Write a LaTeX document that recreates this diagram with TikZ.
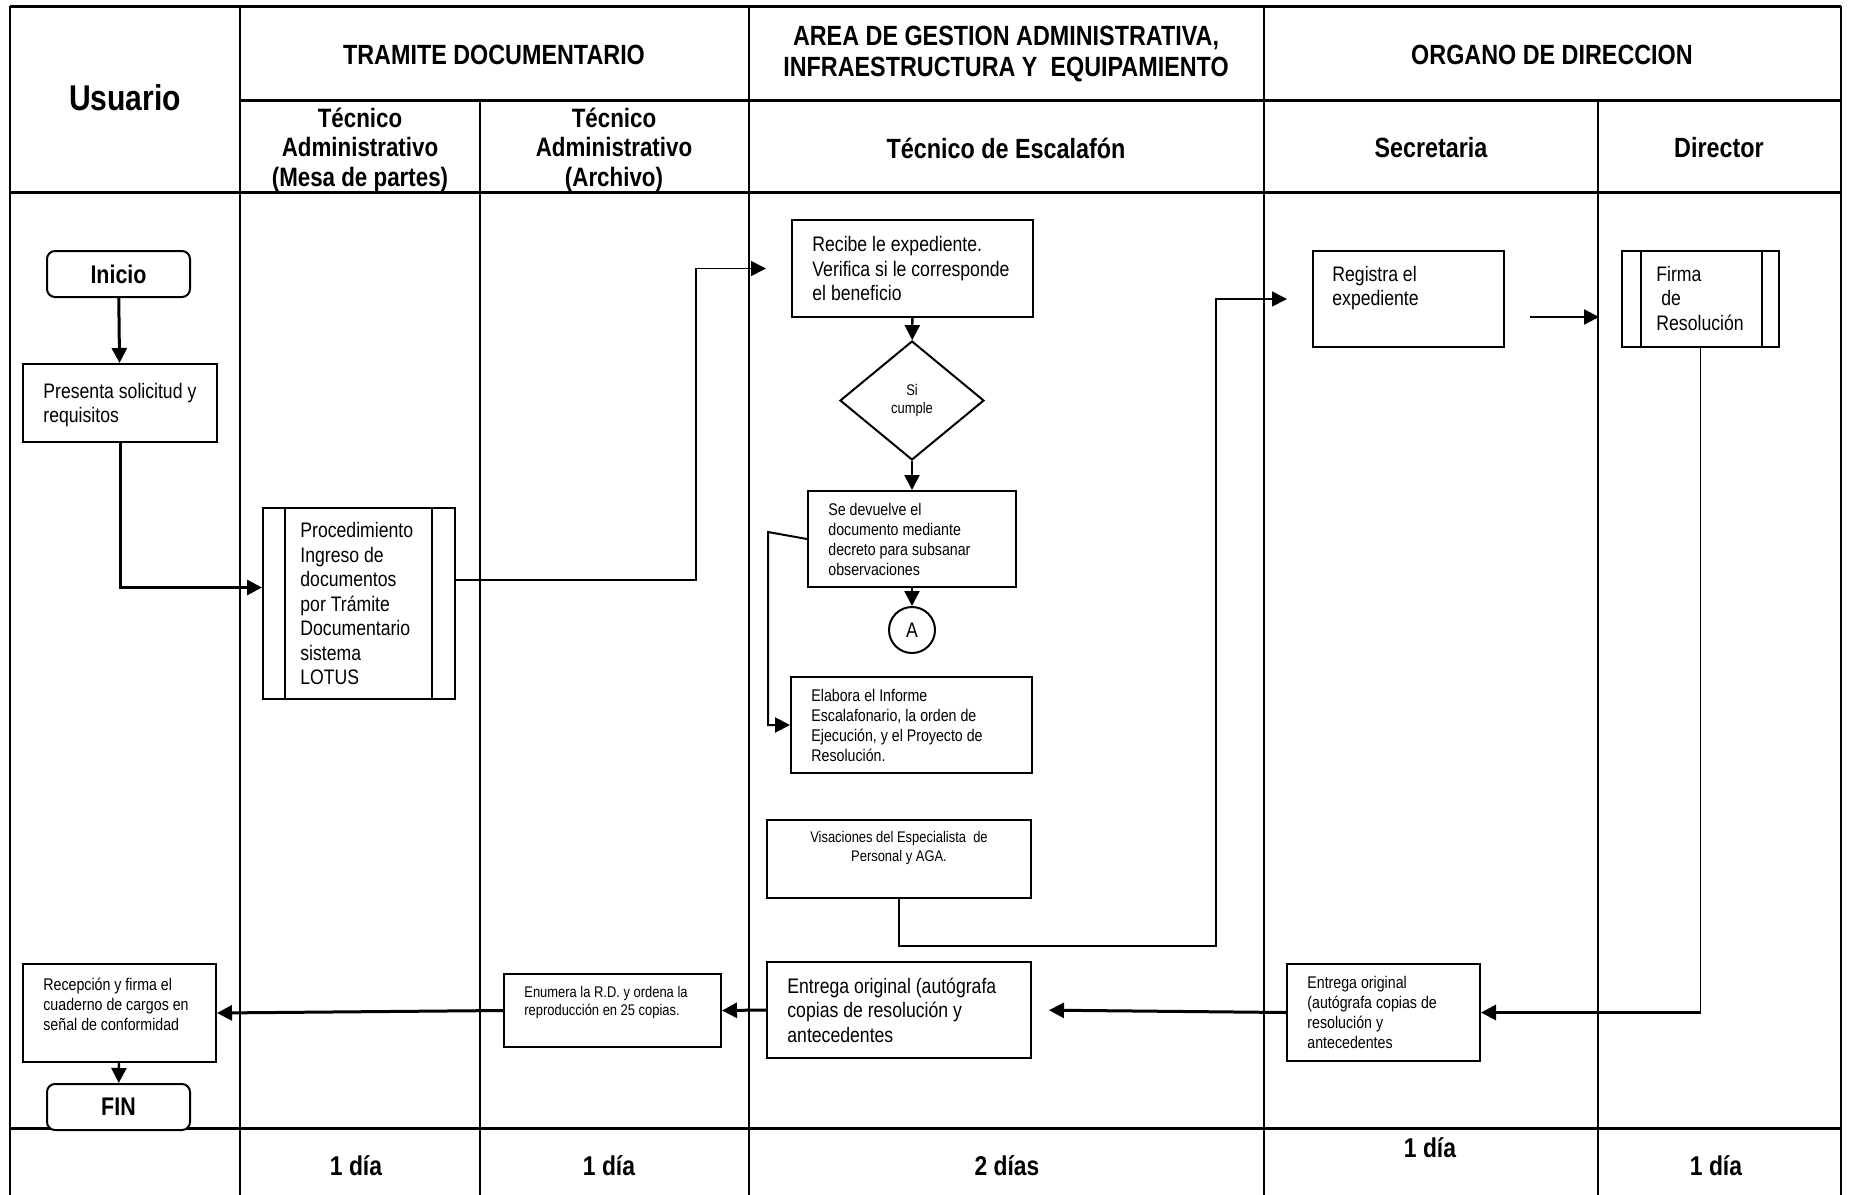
\documentclass[tikz,border=0pt]{standalone}
\usepackage{fontspec}
\setmainfont{Liberation Sans}[FakeStretch=0.84]
\usetikzlibrary{arrows.meta,shapes.geometric}

\newcommand\boxfont{\fontsize{10.5}{12.25}\selectfont}
\newcommand\smallboxfont{\fontsize{8.45}{10}\selectfont}
\newcommand\tinyboxfont{\fontsize{7.7}{9.2}\selectfont}
\newcommand\headfont{\fontsize{13.9}{15.3}\selectfont\bfseries}
\newcommand\subheadfont{\fontsize{13.3}{14.6}\selectfont\bfseries}
\newcommand\dayfont{\fontsize{13.6}{15}\selectfont\bfseries}

\tikzset{
  lane/.style={line width=1.5pt},
  vlane/.style={line width=1.2pt},
  stepbox/.style={draw, rectangle, line width=1pt, inner sep=0pt, fill=white},
  termbox/.style={stepbox, rounded corners=4pt, font=\fontsize{12.75}{14}\selectfont\bfseries},
  txt/.style={anchor=west, align=left, inner sep=0pt, font=\boxfont},
  head/.style={align=center, inner sep=0pt, font=\headfont},
  flow/.style={-{Triangle[length=7.5pt,width=7.5pt]}, line width=1.5pt},
  link/.style={-{Triangle[length=7.5pt,width=7.5pt]}, line width=0.8pt},
}

\begin{document}
\begin{tikzpicture}[x=0.5pt, y=-0.5pt]
\useasboundingbox (0,0) rectangle (1849,1195);

% lanes
\foreach \yy/\xa in {6/10,100/240,192/10,1128/10}
  \draw[lane] (\xa,\yy) -- (1841,\yy);
\foreach \xx/\ya in {10/6,240/6,480/100,749/6,1264/6,1598/100,1841/6}
  \draw[vlane] (\xx,\ya) -- (\xx,1195);

% headers
\node[head, font=\fontsize{17.9}{20}\selectfont\bfseries] (usuario) at (125,98) {Usuario};
\node[head] (tramite) at (494,55) {TRAMITE DOCUMENTARIO};
\node[head] (area) at (1006,54) {AREA DE GESTION ADMINISTRATIVA,\\INFRAESTRUCTURA Y~ EQUIPAMIENTO};
\node[head] (organo) at (1552,55) {ORGANO DE DIRECCION};
\node[head, font=\subheadfont] (mesa) at (360,150) {Técnico\\Administrativo\\(Mesa de partes)};
\node[head, font=\subheadfont] (archivo) at (614,150) {Técnico\\Administrativo\\(Archivo)};
\node[head] (escalafon) at (1006,148) {Técnico de Escalafón};
\node[head] (secretaria) at (1431,148) {Secretaria};
\node[head] (director) at (1719,148) {Director};

% footer
\node[head, font=\dayfont] (t1) at (356,1166) {1 día};
\node[head, font=\dayfont] (t2) at (609,1166) {1 día};
\node[head, font=\dayfont] (t3) at (1007,1166) {2 días};
\node[head, font=\dayfont] (t4) at (1430,1148) {1 día};
\node[head, font=\dayfont] (t5) at (1716,1166) {1 día};

% usuario
\node[termbox, minimum width=71.5pt, minimum height=23pt] (inicio) at (118.5,274) {Inicio};
\node[stepbox, minimum width=97pt, minimum height=39pt] (presenta) at (120,403) {};
\node[txt] (presentaT) at ([xshift=10.5pt,yshift=-1pt]presenta.west) {Presenta solicitud y\\requisitos};
\node[stepbox, minimum width=96.5pt, minimum height=49pt] (recep) at (119.5,1013) {};
\node[txt, font=\smallboxfont] (recepT) at ([xshift=10.5pt,yshift=4.5pt]recep.west) {Recepción y firma el\\cuaderno de cargos en\\señal de conformidad};
\node[termbox, minimum width=71.5pt, minimum height=23pt] (fin) at (118.5,1107) {FIN};

% tramite documentario
\node[stepbox, minimum width=96pt, minimum height=95.5pt] (proc) at (359,603.5) {};
\draw[line width=1pt] ([xshift=11.5pt]proc.north west) -- ([xshift=11.5pt]proc.south west)
  ([xshift=-12pt]proc.north east) -- ([xshift=-12pt]proc.south east);
\node[txt] (procT) at ([xshift=19pt]proc.west) {Procedimiento\\Ingreso de\\documentos\\por Trámite\\Documentario\\sistema\\LOTUS};
\node[stepbox, minimum width=108.5pt, minimum height=36.5pt] (enumera) at (612.5,1010.5) {};
\node[txt, font=\tinyboxfont] (enumeraT) at ([xshift=10.5pt,yshift=4pt]enumera.west) {Enumera la R.D. y ordena la\\reproducción en 25 copias.};

% escalafon
\node[stepbox, minimum width=120.5pt, minimum height=48.5pt] (recibe) at (912.5,268.5) {};
\node[txt] (recibeT) at ([xshift=10.5pt]recibe.west) {Recibe le expediente.\\Verifica si le corresponde\\el beneficio};
\node[diamond, draw, line width=1pt, minimum width=72pt, minimum height=59.5pt, aspect=1.21,
  inner sep=0pt, align=center, font=\tinyboxfont] (si) at (912,400.5) {Si\\cumple};
\node[stepbox, minimum width=104pt, minimum height=48pt] (sedev) at (912,539) {};
\node[txt, font=\smallboxfont] (sedevT) at ([xshift=10.5pt]sedev.west) {Se devuelve el\\documento mediante\\decreto para subsanar\\observaciones};
\node[circle, draw, line width=1pt, minimum size=23pt, inner sep=0pt, font=\boxfont] (circA) at (912,630) {A};
\node[stepbox, minimum width=120.5pt, minimum height=48pt] (elabora) at (911.5,725) {};
\node[txt, font=\smallboxfont] (elaboraT) at ([xshift=10.5pt]elabora.west) {Elabora el Informe\\Escalafonario, la orden de\\Ejecución, y el Proyecto de\\Resolución.};
\node[stepbox, minimum width=132pt, minimum height=39pt] (visa) at (899,859) {};
\node[txt, anchor=center, align=center, font=\tinyboxfont] (visaT) at ([yshift=5.5pt]visa.center) {Visaciones del Especialista~ de\\Personal y AGA.};
\node[stepbox, minimum width=132pt, minimum height=48pt] (entregaB) at (899,1010) {};
\node[txt] (entregaBT) at ([xshift=10.5pt]entregaB.west) {Entrega original (autógrafa\\copias de resolución y\\antecedentes};

% organo de direccion
\node[stepbox, minimum width=95.5pt, minimum height=48pt] (registra) at (1408.5,299) {};
\node[txt] (registraT) at ([xshift=10pt,yshift=5.5pt]registra.west) {Registra el\\expediente};
\node[stepbox, minimum width=78.5pt, minimum height=48pt] (firma) at (1700.5,299) {};
\draw[line width=1pt] ([xshift=10pt]firma.north west) -- ([xshift=10pt]firma.south west)
  ([xshift=-9pt]firma.north east) -- ([xshift=-9pt]firma.south east);
\node[txt] (firmaT) at ([xshift=17.5pt,yshift=0.5pt]firma.west) {Firma\\~de\\Resolución};
\node[stepbox, minimum width=96.5pt, minimum height=48.5pt] (entregaS) at (1383.5,1012.5) {};
\node[txt, font=\smallboxfont] (entregaST) at ([xshift=10.5pt]entregaS.west) {Entrega original\\(autógrafa copias de\\resolución y\\antecedentes};

% bends
\coordinate (b1) at (696,580);
\coordinate (b2) at (1216,946);
\coordinate (b3) at (768,532);
\coordinate (b4) at (firma.south |- entregaS.east);

% connectors
\draw[flow] (inicio) -- (presenta);
\draw[flow] (presenta.south) |- ([yshift=8pt]proc.west);
\draw[link] ([yshift=11.75pt]proc.east) -- (b1) |- ([xshift=-12.5pt]recibe.west);
\draw[flow, line width=1.2pt] (recibe) -- (si);
\draw[flow, line width=1.2pt] (si) -- (sedev);
\draw[flow, line width=1.2pt] (sedev) -- (circA);
\draw[link, line width=1pt] (sedev.west) -- (b3) |- (elabora.west);
\draw[link] (visa.south) |- (b2) |- ([xshift=-12.5pt]registra.west);
\draw[flow, line width=1.2pt, shorten <=12.5pt, shorten >=11pt] ([yshift=-9pt]registra.east) -- ([yshift=-9pt]firma.west);
\draw[line width=0.8pt] (firma.south) -- (b4);
\draw[flow] (b4) -- (entregaS.east);
\draw[flow, shorten >=8.5pt] (entregaS.west) -- (entregaB.east);
\draw[flow] (entregaB.west) -- (enumera.east);
\draw[flow] (enumera.west) -- (recep.east);
\draw[flow, line width=1.2pt] (recep) -- (fin);
\end{tikzpicture}
\end{document}
